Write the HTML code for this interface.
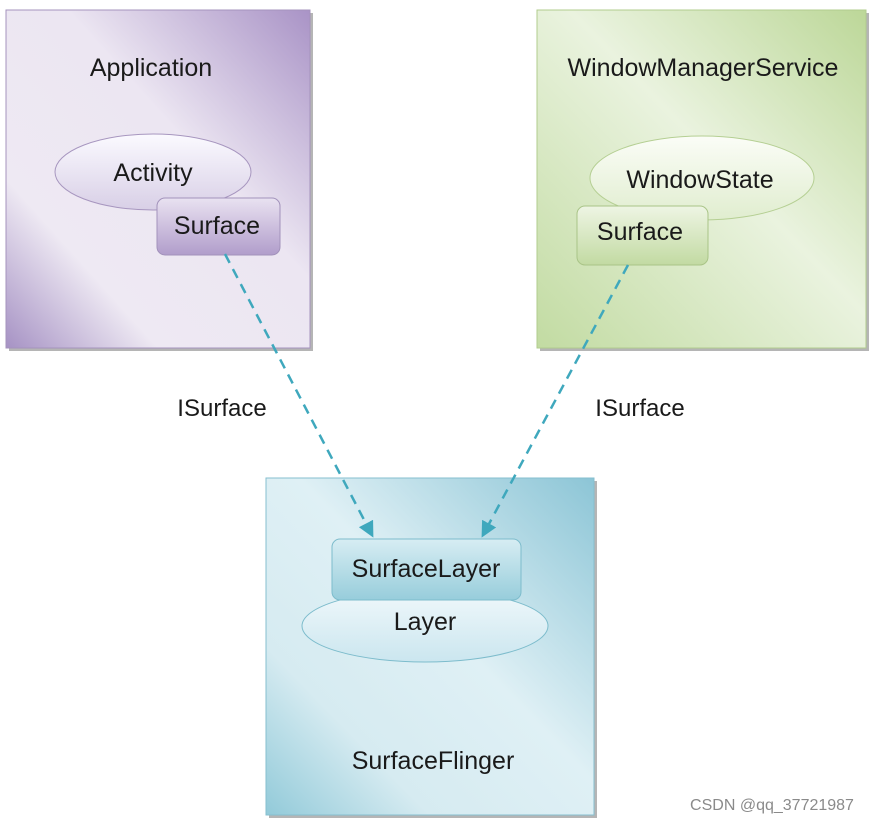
<!DOCTYPE html>
<html><head><meta charset="utf-8"><style>
body{margin:0;background:#fff;}
svg text{font-family:"Liberation Sans",sans-serif;fill:#1a1a1a;}
</style></head><body>
<svg width="871" height="823" viewBox="0 0 871 823" xmlns="http://www.w3.org/2000/svg">
<defs>
<linearGradient id="gp2" x1="1" y1="0" x2="0" y2="1">
<stop offset="0" stop-color="#a993c6"/><stop offset="0.4" stop-color="#ece6f2"/><stop offset="0.75" stop-color="#eee9f3"/><stop offset="1" stop-color="#a692c4"/></linearGradient>
<linearGradient id="gg" x1="1" y1="0" x2="0" y2="1">
<stop offset="0" stop-color="#bcd798"/><stop offset="0.45" stop-color="#eaf3df"/><stop offset="1" stop-color="#c2dba2"/></linearGradient>
<linearGradient id="gb" x1="1" y1="0" x2="0" y2="1">
<stop offset="0" stop-color="#8cc5d6"/><stop offset="0.45" stop-color="#dff0f5"/><stop offset="0.75" stop-color="#d6ebf1"/><stop offset="1" stop-color="#92cad9"/></linearGradient>
<linearGradient id="ev" x1="0" y1="0" x2="0" y2="1"><stop offset="0" stop-color="#fbfaff"/><stop offset="1" stop-color="#d8cfe6"/></linearGradient>
<linearGradient id="rv" x1="0" y1="0" x2="0" y2="1"><stop offset="0" stop-color="#e9e2f1"/><stop offset="1" stop-color="#b19dcb"/></linearGradient>
<linearGradient id="eg" x1="0" y1="0" x2="0" y2="1"><stop offset="0" stop-color="#fbfdf7"/><stop offset="1" stop-color="#e0edcf"/></linearGradient>
<linearGradient id="rg" x1="0" y1="0" x2="0" y2="1"><stop offset="0" stop-color="#eef5e4"/><stop offset="1" stop-color="#c2daa2"/></linearGradient>
<linearGradient id="eb" x1="0" y1="0" x2="0" y2="1"><stop offset="0" stop-color="#f0f8fb"/><stop offset="1" stop-color="#cbe6ef"/></linearGradient>
<linearGradient id="rb" x1="0" y1="0" x2="0" y2="1"><stop offset="0" stop-color="#d7edf3"/><stop offset="1" stop-color="#97cddb"/></linearGradient>
<marker id="ah" markerWidth="16" markerHeight="16" refX="13" refY="8" orient="auto" markerUnits="userSpaceOnUse"><path d="M0,0 L16,8 L0,16 z" fill="#3fa8bd"/></marker>
</defs>
<rect x="9" y="13" width="304" height="338" fill="#b5b5b5"/>
<rect x="6" y="10" width="304" height="338" fill="url(#gp2)" stroke="#a593bd"/>
<text x="151" y="76" font-size="25" text-anchor="middle">Application</text>
<ellipse cx="153" cy="172" rx="98" ry="38" fill="url(#ev)" stroke="#a796bf"/>
<text x="153" y="181" font-size="25" text-anchor="middle">Activity</text>
<rect x="157" y="198" width="123" height="57" rx="8" fill="url(#rv)" stroke="#a292bb"/>
<text x="217" y="234" font-size="25" text-anchor="middle">Surface</text>

<rect x="540" y="13" width="329" height="338" fill="#b5b5b5"/>
<rect x="537" y="10" width="329" height="338" fill="url(#gg)" stroke="#b1cc8e"/>
<text x="703" y="76" font-size="25" text-anchor="middle">WindowManagerService</text>
<ellipse cx="702" cy="178" rx="112" ry="42" fill="url(#eg)" stroke="#b5cf93"/>
<text x="700" y="188" font-size="25" text-anchor="middle">WindowState</text>
<rect x="577" y="206" width="131" height="59" rx="8" fill="url(#rg)" stroke="#a9c487"/>
<text x="640" y="240" font-size="25" text-anchor="middle">Surface</text>

<rect x="269" y="481" width="328" height="337" fill="#b5b5b5"/>
<rect x="266" y="478" width="328" height="337" fill="url(#gb)" stroke="#86bfcf"/>
<ellipse cx="425" cy="626" rx="123" ry="36" fill="url(#eb)" stroke="#7dbccc"/>
<text x="425" y="630" font-size="25" text-anchor="middle">Layer</text>
<rect x="332" y="539" width="189" height="61" rx="8" fill="url(#rb)" stroke="#7dbccc"/>
<text x="426" y="577" font-size="25" text-anchor="middle">SurfaceLayer</text>
<text x="433" y="769" font-size="25" text-anchor="middle">SurfaceFlinger</text>

<line x1="225" y1="254" x2="372" y2="535" stroke="#3fa8bd" stroke-width="2.5" stroke-dasharray="10,7" marker-end="url(#ah)"/>
<line x1="628" y1="265" x2="483" y2="535" stroke="#3fa8bd" stroke-width="2.5" stroke-dasharray="10,7" marker-end="url(#ah)"/>
<text x="222" y="416" font-size="24" text-anchor="middle">ISurface</text>
<text x="640" y="416" font-size="24" text-anchor="middle">ISurface</text>
<text x="772" y="810" font-size="16" text-anchor="middle" style="fill:#8a8a8a">CSDN @qq_37721987</text>
</svg>
</body></html>
